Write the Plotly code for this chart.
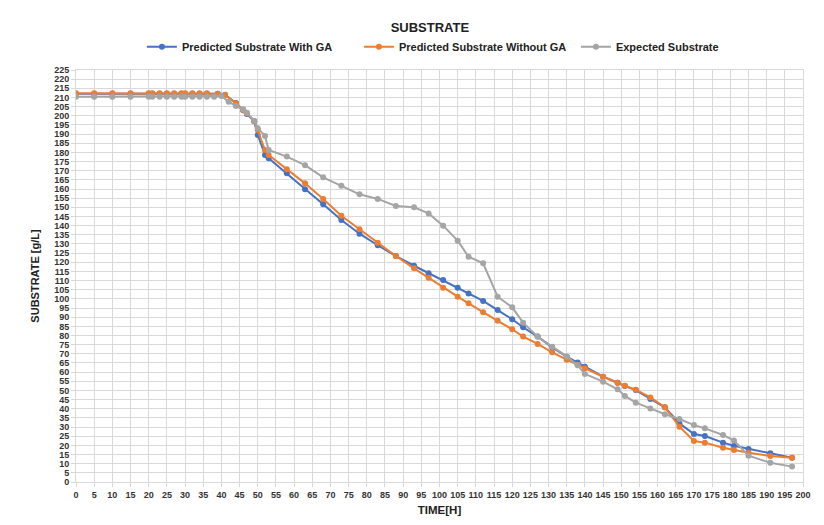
import plotly.graph_objects as go

# Predicted series share these time points
t_pred = [0, 5, 10, 15, 20, 21, 23, 25, 27, 29, 30, 32, 34, 36, 39, 41, 44, 46, 47, 49, 50, 52, 53,
          58, 63, 68, 73, 78, 83, 88, 93, 97, 101, 105, 108, 112, 116, 120, 123, 127, 131, 135, 138,
          140, 145, 149, 151, 154, 158, 162, 166, 170, 173, 178, 181, 185, 191, 197]

with_ga = [212, 212, 212, 212, 212, 212, 212, 212, 212, 212, 212, 212, 212, 212, 212, 211.5, 207, 203, 201, 197, 189.5, 178.6, 176.8,
           168.6, 159.9, 151.7, 143.1, 135.6, 129.3, 123.4, 118.1, 114, 110.3, 106.1, 103, 98.9, 93.9, 88.9, 84.5, 79.4, 73.5, 68.4, 65.2,
           63, 57.5, 54.2, 52.4, 50.2, 45.3, 40.8, 32, 26.2, 25.1, 21.5, 19.8, 18, 15.7, 13.3]

without_ga = [212.3, 212.3, 212.3, 212.3, 212.3, 212.3, 212.3, 212.3, 212.3, 212.3, 212.3, 212.3, 212.3, 212.3, 212, 211.4, 206.8, 203.2, 201.4, 197.2, 192.2, 181.3, 178.6,
              170.8, 163.1, 154.6, 145.4, 138, 130.7, 123.4, 116.7, 111.5, 106.1, 101.2, 97.6, 92.7, 88, 83.4, 79.4, 75.4, 70.8, 66.8, 64,
              62.1, 57.5, 54.2, 52.5, 50.4, 46.2, 40.8, 30.2, 22.4, 21.5, 18.7, 17.5, 16, 14.2, 13.3]

t_exp = [0, 5, 10, 15, 20, 21, 23, 25, 27, 29, 30, 32, 34, 36, 38, 40, 42, 44, 46, 47, 49, 50, 52, 53,
         58, 63, 68, 73, 78, 83, 88, 93, 97, 101, 105, 108, 112, 116, 120, 123, 127, 131, 135, 138,
         140, 145, 149, 151, 154, 158, 162, 166, 170, 173, 178, 181, 185, 191, 197]

expected = [210.4, 210.4, 210.4, 210.4, 210.4, 210.4, 210.4, 210.4, 210.4, 210.4, 210.4, 210.4, 210.4, 210.4, 210.4, 210.8, 207.7, 205.3, 203.5, 201.7, 197.2, 193.2, 189, 181.3,
            177.7, 173, 166.4, 161.8, 157.1, 154.6, 150.7, 150, 146.7, 140, 131.8, 123, 119.4, 101.2, 95.4, 87, 79.4, 73.9, 68.6, 63.7,
            59, 54.8, 50.6, 47, 43.3, 40.2, 37, 34.4, 31.1, 29.3, 25.7, 22.6, 14.4, 10.5, 8.4]

FONT = "Liberation Sans"

fig = go.Figure()
fig.add_trace(go.Scatter(x=t_pred, y=with_ga, mode="lines+markers", name="Predicted Substrate With GA",
                         line=dict(color="#4472C4", width=2), marker=dict(size=6, color="#4472C4")))
fig.add_trace(go.Scatter(x=t_pred, y=without_ga, mode="lines+markers", name="Predicted Substrate Without GA",
                         line=dict(color="#ED7D31", width=2), marker=dict(size=6, color="#ED7D31")))
fig.add_trace(go.Scatter(x=t_exp, y=expected, mode="lines+markers", name="Expected Substrate",
                         line=dict(color="#A5A5A5", width=2), marker=dict(size=6, color="#A5A5A5")))

# the page body has an 8px margin, so the figure is 8px smaller than the window
fig.update_layout(
    width=816, height=517,
    paper_bgcolor="white", plot_bgcolor="white",
    margin=dict(l=68, r=21, t=62, b=43, autoexpand=False),
    font=dict(family=FONT, color="#333333"),
    title=dict(text="<b>SUBSTRATE</b>", x=0.517, xanchor="center", xref="container",
               y=0.963, yanchor="middle", yref="container",
               font=dict(size=13, color="#222222", family=FONT)),
    legend=dict(orientation="h", x=0.563, xanchor="center", xref="container",
                y=0.925, yanchor="middle", yref="container",
                font=dict(size=11, color="#222222", family=FONT, weight="bold"),
                itemwidth=30, tracegroupgap=0, entrywidth=172, entrywidthmode="pixels"),
    showlegend=True,
)
fig.update_xaxes(range=[0, 200], tickmode="linear", tick0=0, dtick=5, tickangle=0, automargin=False,
                 showgrid=True, gridcolor="#d9d9d9", gridwidth=1,
                 ticks="outside", ticklen=4, tickcolor="#d9d9d9",
                 showline=True, linecolor="#d9d9d9", mirror=True, zeroline=False,
                 tickfont=dict(size=9, color="#333333", weight="bold"),
                 title=dict(text="<b>TIME[H]</b>", font=dict(size=11.5, color="#222222"), standoff=7))
fig.update_yaxes(range=[0, 225], tickmode="linear", tick0=0, dtick=5, automargin=False,
                 showgrid=True, gridcolor="#d9d9d9", gridwidth=1,
                 ticks="outside", ticklen=4, tickcolor="#d9d9d9",
                 showline=True, linecolor="#d9d9d9", mirror=True, zeroline=False,
                 tickfont=dict(size=9, color="#333333", weight="bold"),
                 title=dict(text="<b>SUBSTRATE [g/L]</b>", font=dict(size=11, color="#222222"), standoff=12))

fig.write_html("out.html")
